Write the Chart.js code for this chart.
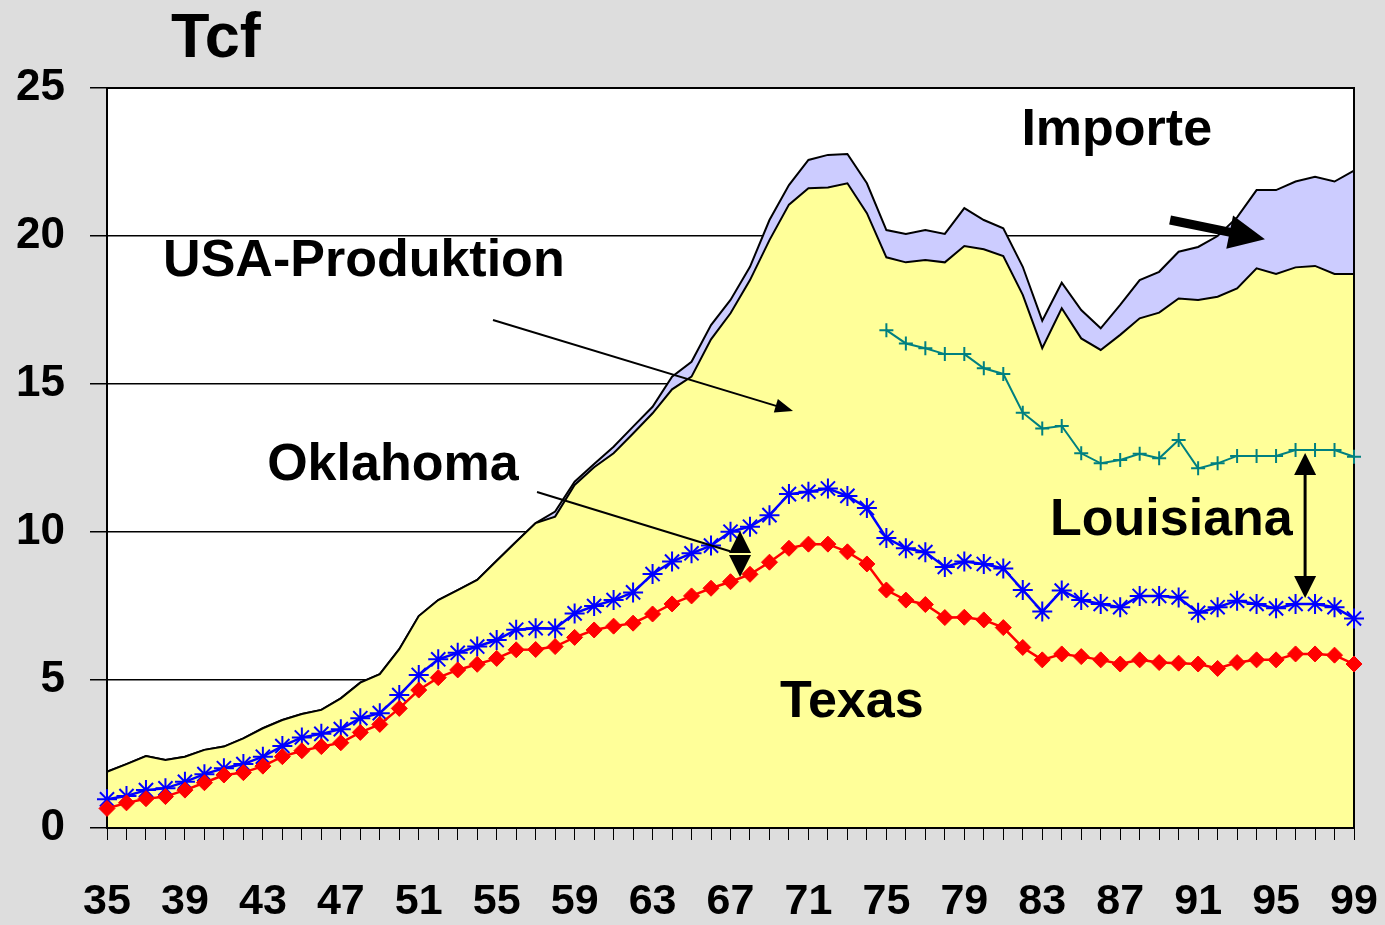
<!DOCTYPE html>
<html>
<head>
<meta charset="utf-8">
<title>Erdgas USA 1935-1999</title>
<script src="https://cdn.jsdelivr.net/npm/chart.js@4.4.1/dist/chart.umd.min.js"></script>
<style>
  html, body { margin:0; padding:0; background:#dddddd; }
  #wrap { width:1385px; height:925px; }
</style>
</head>
<body>
<div id="wrap"><canvas id="gas-chart" width="1385" height="925"></canvas></div>
<script>
// =============================================
// Erdgas USA — Produktion, Importe, Texas / Oklahoma / Louisiana (Tcf)
// =============================================

const years = [
  '35','36','37','38','39','40','41','42','43','44',
  '45','46','47','48','49','50','51','52','53','54',
  '55','56','57','58','59','60','61','62','63','64',
  '65','66','67','68','69','70','71','72','73','74',
  '75','76','77','78','79','80','81','82','83','84',
  '85','86','87','88','89','90','91','92','93','94',
  '95','96','97','98','99'
];
const yearLabels = ['35','39','43','47','51','55','59','63','67','71','75','79','83','87','91','95','99'];
const yTicks = [0, 5, 10, 15, 20, 25];

// Texas production, 1935-1999
const texas = [
  0.66, 0.85, 0.99, 1.06, 1.28, 1.53, 1.79, 1.87, 2.09, 2.41,
  2.61, 2.75, 2.88, 3.23, 3.50, 4.04, 4.66, 5.08, 5.34, 5.53,
  5.73, 6.02, 6.03, 6.13, 6.44, 6.69, 6.82, 6.92, 7.23, 7.57,
  7.84, 8.10, 8.32, 8.57, 8.98, 9.45, 9.59, 9.59, 9.33, 8.92,
  8.04, 7.70, 7.55, 7.11, 7.12, 7.03, 6.77, 6.10, 5.68, 5.88,
  5.79, 5.68, 5.54, 5.68, 5.59, 5.57, 5.54, 5.39, 5.59, 5.68,
  5.68, 5.88, 5.88, 5.84, 5.54
];
// Oklahoma (stacked on Texas in the chart)
const oklahoma = [
  0.31, 0.23, 0.29, 0.28, 0.28, 0.29, 0.23, 0.29, 0.32, 0.36,
  0.45, 0.43, 0.46, 0.48, 0.38, 0.45, 0.51, 0.62, 0.58, 0.60,
  0.62, 0.68, 0.72, 0.61, 0.81, 0.81, 0.88, 1.04, 1.35, 1.43,
  1.44, 1.44, 1.69, 1.61, 1.59, 1.83, 1.77, 1.88, 1.89, 1.89,
  1.76, 1.75, 1.77, 1.71, 1.88, 1.89, 2.00, 1.94, 1.63, 2.14,
  1.91, 1.89, 1.92, 2.16, 2.25, 2.22, 1.73, 2.07, 2.09, 1.89,
  1.74, 1.69, 1.69, 1.62, 1.54
];
// Louisiana, only shown from 1975 on
const louisianaYears = [
  '75','76','77','78','79','80','81','82','83','84',
  '85','86','87','88','89','90','91','92','93','94',
  '95','96','97','98','99'
];
const louisiana = [
  7.02, 6.92, 6.89, 7.19, 7.01, 6.61, 6.57, 5.99, 6.19, 5.56,
  4.96, 4.75, 4.97, 4.80, 4.65, 5.32, 4.88, 4.86, 4.89, 5.00,
  5.15, 5.20, 5.20, 5.31, 5.46
];
// USA-Produktion
const produktion = [
  1.90, 2.16, 2.43, 2.30, 2.41, 2.64, 2.75, 3.03, 3.37, 3.65,
  3.85, 3.99, 4.38, 4.91, 5.20, 6.04, 7.16, 7.70, 8.04, 8.38,
  9.03, 9.67, 10.30, 10.52, 11.59, 12.19, 12.66, 13.33, 14.01, 14.82,
  15.25, 16.51, 17.39, 18.51, 19.86, 21.06, 21.61, 21.64, 21.78, 20.77,
  19.28, 19.11, 19.19, 19.11, 19.66, 19.55, 19.32, 18.01, 16.21, 17.56,
  16.54, 16.15, 16.66, 17.22, 17.41, 17.89, 17.84, 17.95, 18.23, 18.91,
  18.72, 18.94, 18.99, 18.72, 18.72
];
// Importe (on top of USA-Produktion)
const importe = [
  0, 0, 0, 0, 0, 0, 0, 0, 0, 0,
  0, 0, 0, 0, 0, 0, 0, 0, 0, 0,
  0, 0, 0, 0.17, 0.11, 0.11, 0.22, 0.23, 0.22, 0.43,
  0.50, 0.48, 0.45, 0.45, 0.68, 0.66, 0.96, 1.10, 0.99, 1.01,
  0.92, 0.96, 1.01, 0.96, 1.28, 0.99, 0.94, 0.95, 0.93, 0.86,
  0.96, 0.73, 1.01, 1.29, 1.38, 1.58, 1.79, 2.05, 2.40, 2.64,
  2.83, 2.90, 3.01, 3.12, 3.49
];

// text labels and arrows, in data units (year, Tcf)
const FONT = 'Liberation Sans, Arial, Helvetica, sans-serif';
const notes = [
  { text: 'Importe',        yr: 81.93, v: 23.07 },
  { text: 'USA-Produktion', yr: 37.88, v: 18.65 },
  { text: 'Oklahoma',       yr: 43.22, v: 11.76 },
  { text: 'Louisiana',      yr: 83.40, v: 9.90 },
  { text: 'Texas',          yr: 69.54, v: 3.75 }
];

// ---- derived series as plotted ----
const sum = (a, b) => a.map((v, i) => +(v + b[i]).toFixed(2));
const texOkla = sum(texas, oklahoma);
const laStart = years.indexOf(louisianaYears[0]);
const texOklaLa = louisiana.map((v, i) => ({ x: louisianaYears[i], y: +(texOkla[laStart + i] + v).toFixed(2) }));
const gesamt = sum(produktion, importe);

const px = (chart, yr, v) => [chart.scales.x.getPixelForValue(yr - 35), chart.scales.y.getPixelForValue(v)];

function arrowHead(ctx, x1, y1, x2, y2, len, wid) {
  const a = Math.atan2(y2 - y1, x2 - x1);
  ctx.beginPath();
  ctx.moveTo(x2, y2);
  ctx.lineTo(x2 - len * Math.cos(a) + wid / 2 * Math.sin(a), y2 - len * Math.sin(a) - wid / 2 * Math.cos(a));
  ctx.lineTo(x2 - len * Math.cos(a) - wid / 2 * Math.sin(a), y2 - len * Math.sin(a) + wid / 2 * Math.cos(a));
  ctx.closePath();
  ctx.fill();
}

function line(ctx, x1, y1, x2, y2, w) {
  ctx.lineWidth = w;
  ctx.beginPath();
  ctx.moveTo(x1, y1);
  ctx.lineTo(x2, y2);
  ctx.stroke();
}

const decoPlugin = {
  id: 'deco',
  beforeDraw(chart) {
    const { ctx, chartArea: a } = chart;
    ctx.save();
    ctx.fillStyle = '#dddddd';
    ctx.fillRect(0, 0, chart.width, chart.height);
    ctx.fillStyle = '#ffffff';
    ctx.fillRect(a.left, a.top, a.right - a.left, a.bottom - a.top);
    ctx.restore();
  },
  beforeDatasetDraw(chart, args) {
    // frame after the areas, before the state lines
    if (args.index !== 2) return;
    const { ctx, chartArea: a } = chart;
    ctx.save();
    ctx.strokeStyle = '#000';
    ctx.lineWidth = 2;
    ctx.strokeRect(a.left, a.top, a.right - a.left, a.bottom - a.top);
    ctx.restore();
  },
  afterDraw(chart) {
    const { ctx, chartArea: a } = chart;
    ctx.save();
    ctx.fillStyle = '#000';
    ctx.strokeStyle = '#000';

    // title
    ctx.font = 'bold 63px ' + FONT;
    ctx.textBaseline = 'alphabetic';
    ctx.fillText('Tcf', a.left + 64, a.top - 31);

    ctx.font = 'bold 52px ' + FONT;
    notes.forEach(n => {
      const [x, y] = px(chart, n.yr, n.v);
      ctx.fillText(n.text, x, y);
    });

    // USA-Produktion arrow
    let [x1, y1] = px(chart, 54.81, 17.16);
    let [x2, y2] = px(chart, 70.21, 14.09);
    line(ctx, x1, y1, x2 - 12, y2 - 3.6, 2);
    arrowHead(ctx, x1, y1, x2, y2, 18, 14);

    // Oklahoma pointer + double arrow
    [x1, y1] = px(chart, 57.07, 11.35);
    [x2, y2] = px(chart, 66.98, 9.35);
    line(ctx, x1, y1, x2, y2, 2);
    const [dx, dTop] = px(chart, 67.49, 10.03);
    const [, dBot] = px(chart, 67.49, 8.48);
    const mid = (dTop + dBot) / 2;
    arrowHead(ctx, dx, mid - 1, dx, dTop, mid - 1 - dTop, 22);
    arrowHead(ctx, dx, mid + 1, dx, dBot, dBot - mid - 1, 22);

    // Importe arrow (thick)
    [x1, y1] = px(chart, 89.56, 20.54);
    [x2, y2] = px(chart, 94.43, 19.89);
    const ang = Math.atan2(y2 - y1, x2 - x1);
    line(ctx, x1, y1, x2 - 30 * Math.cos(ang), y2 - 30 * Math.sin(ang), 9);
    arrowHead(ctx, x1, y1, x2, y2, 36, 34);

    // Louisiana double arrow
    const [lx, lTop] = px(chart, 96.49, 12.67);
    const [, lBot] = px(chart, 96.49, 7.77);
    line(ctx, lx, lTop + 15, lx, lBot - 15, 3);
    arrowHead(ctx, lx, lBot, lx, lTop, 22, 22);
    arrowHead(ctx, lx, lTop, lx, lBot, 22, 22);

    ctx.restore();
  }
};

new Chart(document.getElementById('gas-chart'), {
  type: 'line',
  data: {
    labels: years,
    datasets: [
      { label: 'Texas', data: texas, borderColor: '#ff0000', borderWidth: 2.5,
        pointStyle: 'rectRot', pointRadius: 8, pointBackgroundColor: '#ff0000', pointBorderColor: '#ff0000',
        pointBorderWidth: 1, fill: false, clip: false, tension: 0 },
      { label: 'Oklahoma', data: texOkla, borderColor: '#0000ff', borderWidth: 2.5,
        pointStyle: 'star', pointRadius: 10, pointBorderColor: '#0000ff', pointBackgroundColor: '#0000ff',
        pointBorderWidth: 2, fill: false, clip: false, tension: 0 },
      { label: 'Louisiana', data: texOklaLa, borderColor: '#008080', borderWidth: 2,
        pointStyle: 'cross', pointRadius: 7, pointBorderColor: '#008080', pointBorderWidth: 2,
        fill: false, clip: false, tension: 0 },
      { label: 'USA-Produktion', data: produktion, borderColor: '#000000', borderWidth: 2,
        backgroundColor: '#ffff99', fill: 'origin', pointRadius: 0, tension: 0 },
      { label: 'Importe', data: gesamt, borderColor: '#000000', borderWidth: 2,
        backgroundColor: '#ccccff', fill: '-1', pointRadius: 0, tension: 0 }
    ]
  },
  options: {
    responsive: false,
    animation: false,
    events: [],
    devicePixelRatio: 1,
    layout: { padding: { top: 88, right: 31, left: 0, bottom: 0 } },
    plugins: { legend: { display: false }, tooltip: { enabled: false } },
    scales: {
      x: {
        offset: false,
        afterFit: s => { s.height = 97; },
        // long tick with a dash pattern: short visible mark, labels pushed down
        grid: { drawOnChartArea: false, drawTicks: true, tickLength: 48, tickBorderDash: [12, 80],
                color: '#000', lineWidth: 1 },
        border: { display: false },
        ticks: {
          autoSkip: false, maxRotation: 0, padding: 0, color: '#000',
          font: { family: FONT, size: 43, weight: 'bold' },
          callback: (v, i) => yearLabels.includes(years[i]) ? years[i] : ''
        }
      },
      y: {
        min: 0, max: 25,
        afterFit: s => { s.width = 107; },
        afterBuildTicks: s => { s.ticks = yTicks.map(v => ({ value: v })); },
        grid: { color: '#000', lineWidth: 1.5, tickLength: 17 },
        border: { display: false },
        ticks: { padding: 25, color: '#000', font: { family: FONT, size: 44, weight: 'bold' } }
      }
    }
  },
  plugins: [decoPlugin]
});
</script>
</body>
</html>
